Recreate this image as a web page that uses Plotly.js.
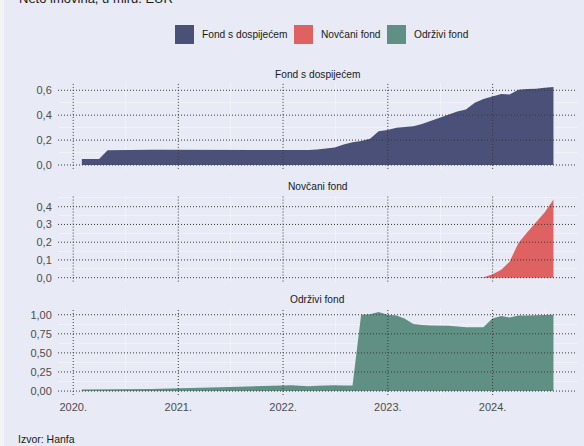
<!DOCTYPE html>
<html><head><meta charset="utf-8">
<script src="https://cdn.plot.ly/plotly-3.0.1.min.js"></script>
<style>
html,body{margin:0;padding:0;background:#f3f3f4;width:584px;height:446px;overflow:hidden}
#chart{position:absolute;left:4px;top:0;width:580px;height:446px}
</style></head><body><div id="chart"></div>
<script>
// ---------- DATA ----------
const dates = [
 '2020-01-31','2020-02-29','2020-03-31','2020-04-30','2020-05-31','2020-06-30','2020-07-31','2020-08-31','2020-09-30','2020-10-31','2020-11-30','2020-12-31',
 '2021-01-31','2021-02-28','2021-03-31','2021-04-30','2021-05-31','2021-06-30','2021-07-31','2021-08-31','2021-09-30','2021-10-31','2021-11-30','2021-12-31',
 '2022-01-31','2022-02-28','2022-03-31','2022-04-30','2022-05-31','2022-06-30','2022-07-31','2022-08-31','2022-09-30','2022-10-31','2022-11-30','2022-12-31',
 '2023-01-31','2023-02-28','2023-03-31','2023-04-30','2023-05-31','2023-06-30','2023-07-31','2023-08-31','2023-09-30','2023-10-31','2023-11-30','2023-12-31',
 '2024-01-31','2024-02-29','2024-03-31','2024-04-30','2024-05-31','2024-06-30','2024-07-31'
];
const fondSDospijecem = [
 0.048,0.048,0.048,0.118,0.120,0.121,0.121,0.122,0.122,0.122,0.122,0.122,
 0.122,0.122,0.122,0.122,0.121,0.117,0.116,0.117,0.118,0.118,0.119,0.119,
 0.120,0.120,0.121,0.124,0.130,0.140,0.165,0.183,0.193,0.210,0.270,0.280,
 0.300,0.308,0.312,0.330,0.355,0.380,0.410,0.430,0.445,0.500,0.530,0.550,
 0.570,0.566,0.605,0.611,0.612,0.620,0.627
];
const novcaniFond = [
 null,null,null,null,null,null,null,null,null,null,null,null,
 null,null,null,null,null,null,null,null,null,null,null,null,
 null,null,null,null,null,null,null,null,null,null,null,null,
 null,null,null,null,null,null,null,null,null,0.000,0.003,0.018,
 0.045,0.090,0.195,0.255,0.310,0.367,0.440
];
const odrziviFond = [
 0.020,0.020,0.019,0.020,0.021,0.022,0.023,0.025,0.027,0.029,0.031,0.035,
 0.038,0.040,0.042,0.045,0.048,0.052,0.058,0.062,0.065,0.068,0.072,0.078,
 0.075,0.068,0.064,0.070,0.078,0.076,0.074,0.073,1.000,1.005,1.035,1.000,
 0.990,0.950,0.880,0.865,0.860,0.860,0.855,0.845,0.835,0.835,0.835,0.950,
 0.985,0.965,0.990,0.990,0.992,0.995,1.000
];
const seriesNames = ['Fond s dospijećem','Novčani fond','Održivi fond'];
const seriesColors = ['#4a5078','#de6262','#5f9083'];
const yearTicks = ['2020-01-01','2021-01-01','2022-01-01','2023-01-01','2024-01-01'];
const yearMinor = ['2020-07-02','2021-07-02','2022-07-02','2023-07-02','2024-07-02'];
const yTicks1 = [0,0.2,0.4,0.6];      const yMinor1 = [0.1,0.3,0.5];
const yTicks2 = [0,0.1,0.2,0.3,0.4];  const yMinor2 = [0.05,0.15,0.25,0.35,0.45];
const yTicks3 = [0,0.25,0.5,0.75,1];  const yMinor3 = [0.125,0.375,0.625,0.875];
const chartTitle = 'Neto imovina, u mlrd. EUR';
const sourceText = 'Izvor: Hanfa';

// ---------- LAYOUT HELPERS ----------
const FONT = 'Liberation Sans, Arial, sans-serif';
const BG = '#e8eaf6';
const L = 54, R = 7, T = 83, B = 51, W = 580, H = 446;
const PW = W - L - R, PH = H - T - B;
const px = x => (x - 4 - L) / PW;          // page x -> paper
const py = y => (H - B - y) / PH;          // page y -> paper

function rng(arr){ const m = Math.max(...arr.filter(v=>v!==null)); return [-0.05*m, 1.05*m]; }
const t0 = new Date(dates[0]).getTime(), t1 = new Date(dates[dates.length-1]).getTime();
const pad = 0.05*(t1-t0);
const xr = [new Date(t0-pad).toISOString().slice(0,10), new Date(t1+pad).toISOString().slice(0,10)];

const vals = [fondSDospijecem, novcaniFond, odrziviFond];
const yrefs = ['y3','y2','y'];
const traces = vals.map((v,i)=>({
  x: dates, y: v, type:'scatter', mode:'lines', fill:'tozeroy',
  fillcolor: seriesColors[i], line:{color: seriesColors[i], width:0},
  xaxis:'x', yaxis: yrefs[i], showlegend:false, hoverinfo:'skip'
}));

const tickFont = {family: FONT, size: 11, color: '#4d4d4d'};
function yax(domain, ticks, minor, fmt, r){
  return {domain, range:r, tickvals:ticks, tickformat:fmt, showgrid:false, zeroline:false,
    showline:false, ticks:'outside', ticklen:3, tickcolor:'rgba(0,0,0,0)', tickfont:tickFont,
    minor:{tickvals:minor, showgrid:true, gridcolor:'rgba(255,255,255,0.6)', gridwidth:0.6, ticks:''},
    fixedrange:true};
}

const shapes = [];
const dotLine = {color:'#3a3a3a', width:1, dash:'1px,2px'};
[[yrefs[0],yTicks1],[yrefs[1],yTicks2],[yrefs[2],yTicks3]].forEach(([yr,ticks])=>{
  ticks.forEach(v=>shapes.push({type:'line', layer:'above', xref:'x domain', x0:0, x1:1, yref:yr, y0:v, y1:v, line:dotLine}));
  yearTicks.forEach(d=>shapes.push({type:'line', layer:'above', xref:'x', x0:d, x1:d, yref:yr+' domain', y0:0, y1:1, line:dotLine}));
});

// manual legend
const legSq = [175, 294, 387];
const annotations = [];
seriesNames.forEach((n,i)=>{
  shapes.push({type:'rect', xref:'paper', yref:'paper', x0:px(legSq[i]), x1:px(legSq[i]+19), y0:py(44), y1:py(25),
    fillcolor:seriesColors[i], line:{width:0}});
  annotations.push({xref:'paper', yref:'paper', x:px(legSq[i]+25), y:py(34.5), xanchor:'left', yanchor:'middle',
    text:n, showarrow:false, font:{family:FONT, size:10.2, color:'#1a1a1a'}});
});
// facet titles
[['y3 domain',9],['y2 domain',9.5],['y domain',9]].forEach(([yr,sh],i)=>{
  annotations.push({xref:'paper', x:0.5, yref:yr, y:1, yshift:sh, xanchor:'center', yanchor:'middle',
    text:seriesNames[i], showarrow:false, font:{family:FONT, size:10.2, color:'#1a1a1a'}});
});
annotations.push({xref:'paper', yref:'paper', x:px(17), y:py(-2), xanchor:'left', yanchor:'middle',
  text:chartTitle, showarrow:false, font:{family:FONT, size:13, color:'#1a1a1a'}});
annotations.push({xref:'paper', yref:'paper', x:px(16), y:py(439), xanchor:'left', yanchor:'middle',
  text:sourceText, showarrow:false, font:{family:FONT, size:10.5, color:'#1a1a1a'}});

const layout = {
  width:W, height:H, margin:{l:L, r:R, t:T, b:B},
  paper_bgcolor:BG, plot_bgcolor:BG, separators:', ',
  font:{family:FONT},
  showlegend:false,
  xaxis:{type:'date', range:xr, anchor:'y', tickvals:yearTicks, tickformat:'%Y.', showgrid:false, zeroline:false,
    ticks:'outside', ticklen:2, tickcolor:'rgba(0,0,0,0)', tickfont:tickFont,
    minor:{tickvals:yearMinor, showgrid:true, gridcolor:'rgba(255,255,255,0.6)', gridwidth:0.6, ticks:''}, fixedrange:true},
  yaxis:  yax([0, 0.2785], yTicks3, yMinor3, '.2f', rng(odrziviFond)),
  yaxis2: yax([0.3635, 0.6388], yTicks2, yMinor2, '.1f', rng(novcaniFond)),
  yaxis3: yax([0.7247, 1], yTicks1, yMinor1, '.1f', rng(fondSDospijecem)),
  shapes, annotations
};
Plotly.newPlot('chart', traces, layout, {displayModeBar:false, staticPlot:true});
</script></body></html>
